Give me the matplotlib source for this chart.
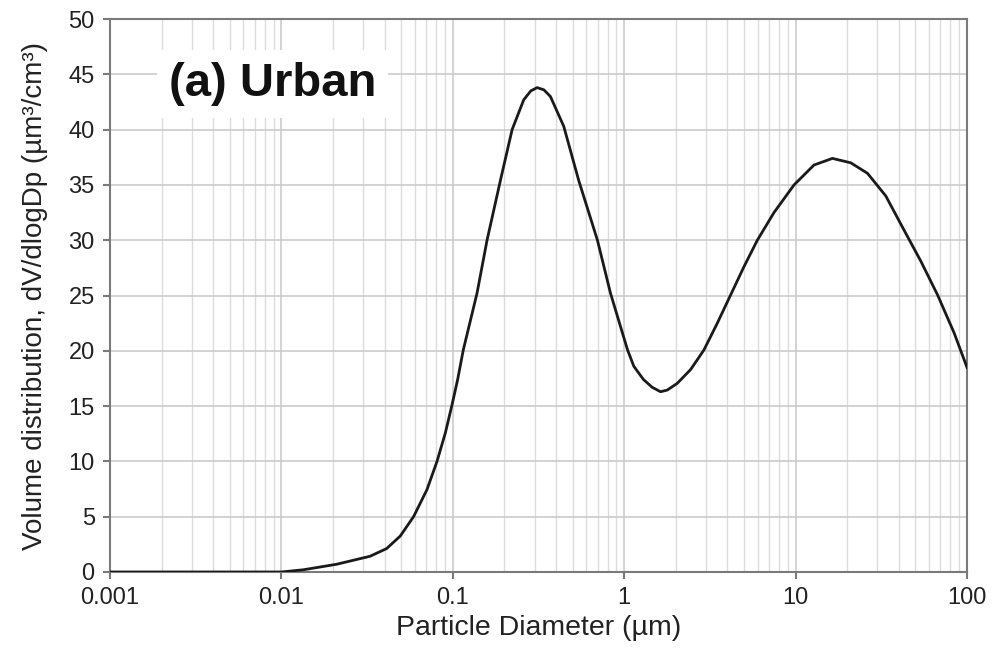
import numpy as np
import matplotlib
matplotlib.use("Agg")
import matplotlib.pyplot as plt
from matplotlib.ticker import LogLocator, FixedLocator, FixedFormatter

plt.rcParams['font.family'] = ['Liberation Sans', 'DejaVu Sans']

# particle diameter (um) and volume distribution dV/dlogDp
diameter = [0.001, 0.005, 0.01, 0.01343, 0.02102, 0.03287, 0.04114, 0.04935,
            0.05902, 0.07068, 0.08087, 0.09041, 0.0989, 0.1067, 0.1152,
            0.1384, 0.1584, 0.1895, 0.2218, 0.2593, 0.2850, 0.3102, 0.340,
            0.371, 0.4439, 0.5429, 0.698, 0.832, 1.045, 1.138, 1.296, 1.457,
            1.629, 1.783, 2.04, 2.439, 2.917, 3.493, 4.177, 4.995, 5.98,
            7.478, 9.79, 12.8, 16.4, 20.99, 26.27, 33.6, 42.97, 53.8, 67.35,
            84.2, 100.0]
volume = [0.0, 0.0, 0.0, 0.2, 0.7, 1.42, 2.12, 3.25,
          5.0, 7.45, 10.0, 12.56, 15.1, 17.4, 20.1,
          25.2, 30.0, 35.4, 40.0, 42.7, 43.5, 43.8, 43.6,
          43.0, 40.3, 35.4, 30.0, 25.2, 20.1, 18.6, 17.4, 16.7,
          16.3, 16.45, 17.06, 18.3, 20.07, 22.5, 25.05, 27.6, 30.0,
          32.5, 35.0, 36.8, 37.4, 37.0, 36.05, 34.0, 30.9, 28.1, 25.05,
          21.6, 18.5]

x_ticks = [0.001, 0.01, 0.1, 1, 10, 100]
x_labels = ['0.001', '0.01', '0.1', '1', '10', '100']
y_ticks = list(range(0, 55, 5))

fig = plt.figure(figsize=(9.92, 6.57), dpi=100)
ax = fig.add_axes([0.1109, 0.1294, 0.8639, 0.8416])

ax.plot(diameter, volume, color='#1a1a1a', lw=2.0, zorder=3,
        solid_joinstyle='round')

ax.set_xscale('log')
ax.set_xlim(0.001, 100)
ax.set_ylim(0, 50)
ax.xaxis.set_major_locator(FixedLocator(x_ticks))
ax.xaxis.set_major_formatter(FixedFormatter(x_labels))
ax.xaxis.set_minor_locator(LogLocator(base=10, subs=np.arange(2, 10)))
ax.xaxis.set_minor_formatter(plt.NullFormatter())
ax.set_yticks(y_ticks)

ax.grid(which='major', axis='both', color='#c8c8c8', lw=1.1)
ax.grid(which='minor', axis='x', color='#dcdcdc', lw=1.0)
ax.set_axisbelow(True)

for s in ax.spines.values():
    s.set_color('#7a7a7a')
    s.set_linewidth(1.5)
ax.tick_params(which='major', length=5, width=1.5, color='#7a7a7a',
               labelsize=17, labelcolor='#222222', pad=6)
ax.tick_params(which='minor', length=0)

ax.set_xlabel('Particle Diameter (µm)', fontsize=20.5, color='#222222', labelpad=4)
ax.set_ylabel('Volume distribution, dV/dlogDp (µm³/cm³)', fontsize=20,
              color='#222222', labelpad=15)

ax.text(0.00893, 44.1, '(a) Urban', fontsize=34, fontweight='bold', color='#111111',
        ha='center', va='center', zorder=4,
        bbox=dict(boxstyle='square,pad=0.25', facecolor='white', edgecolor='none'))

fig.savefig('out.png', dpi=100)
